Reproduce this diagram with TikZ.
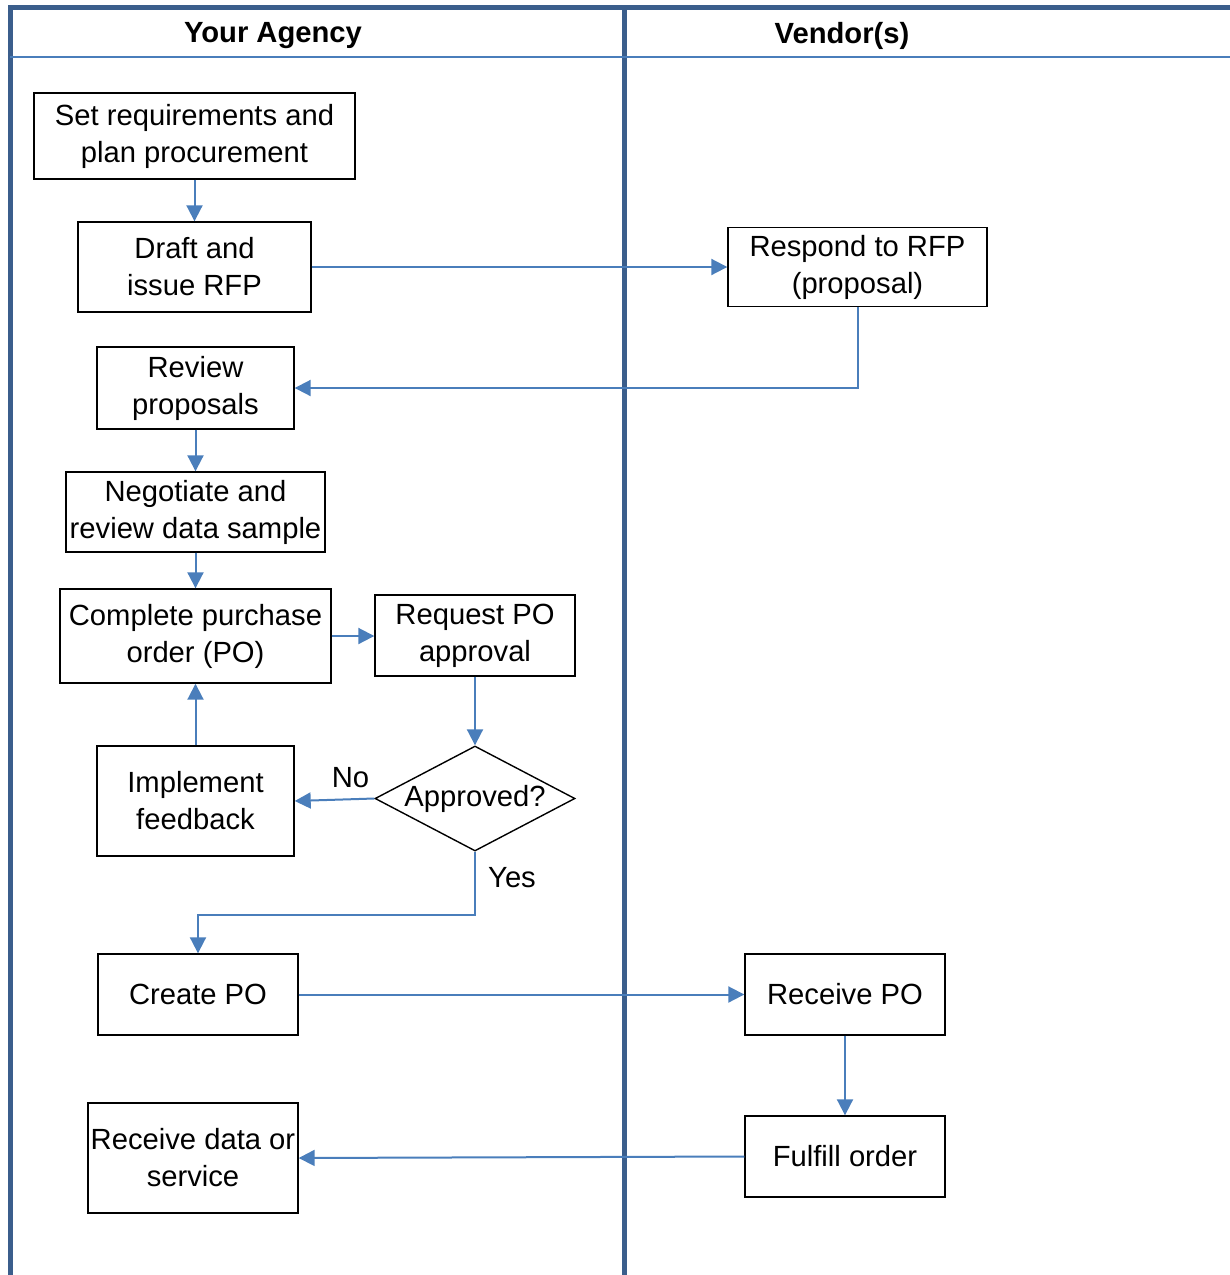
\documentclass[tikz,border=0pt]{standalone}
\usepackage{fontspec}
\setmainfont{Liberation Sans}
\usetikzlibrary{arrows.meta,shapes.geometric}
\definecolor{laneblue}{RGB}{59,94,140}
\definecolor{linkblue}{RGB}{74,126,187}

\begin{document}
\begin{tikzpicture}[x=0.5pt,y=-0.5pt,
    font=\fontsize{14.6}{18.5}\selectfont,
    box/.style={draw, line width=0.7pt, align=center, inner sep=0pt},
    decision/.style={draw, diamond, line width=0.7pt, aspect=1.9, inner sep=0pt,
        minimum width=100pt, minimum height=52.5pt},
    link/.style={draw=linkblue, line width=1pt, -{Triangle[length=8pt,width=8pt]}}]
    \useasboundingbox (0,0) rectangle (1230,1275);
    % swim lanes
    \draw[laneblue, line width=2.5pt] (10,1275) -- (10,7) -- (1230,7);
    \draw[laneblue, line width=2.5pt] (624,7) -- (624,1275);
    \draw[linkblue, line width=1pt] (10,57) -- (1230,57);
    \node[font=\fontsize{14.6}{18.5}\selectfont\bfseries] (agency) at (273,36) {Your Agency};
    \node[font=\fontsize{14.6}{18.5}\selectfont\bfseries] (vendor) at (842,36) {Vendor(s)};
    % agency side
    \node[box, minimum width=160.5pt, minimum height=43pt] (plan) at (194.5,136) {Set requirements and\\plan procurement};
    \node[box, minimum width=116.5pt, minimum height=45pt] (rfp) at (194.5,267) {Draft and\\issue RFP};
    \node[box, minimum width=98.5pt, minimum height=41pt] (review) at (195.5,388) {Review\\proposals};
    \node[box, minimum width=129.5pt, minimum height=40pt] (negotiate) at (195.5,512) {Negotiate and\\review data sample};
    \node[box, minimum width=135.5pt, minimum height=47pt] (complete) at (195.5,636) {Complete purchase\\order (PO)};
    \node[box, minimum width=100pt, minimum height=40.5pt] (request) at (475,635.5) {Request PO\\approval};
    \node[decision] (approved) at (475,798.5) {Approved?};
    \node[box, minimum width=98.5pt, minimum height=55pt] (feedback) at (195.5,801) {Implement\\feedback};
    \node[box, minimum width=100pt, minimum height=40.5pt] (createpo) at (198,994.5) {Create PO};
    \node[box, minimum width=105pt, minimum height=55pt] (receivedata) at (193,1158) {Receive data or\\service};
    % vendor side
    \node[box, minimum width=129.5pt, minimum height=39.5pt] (respond) at (857.5,267) {Respond to RFP\\(proposal)};
    \node[box, minimum width=100pt, minimum height=40.5pt] (receivepo) at (845,994.5) {Receive PO};
    \node[box, minimum width=100pt, minimum height=40.5pt] (fulfill) at (845,1156.5) {Fulfill order};
    % connectors
    \draw[link] (plan) -- (rfp);
    \draw[link] (rfp) -- (respond);
    \draw[link] (respond.south) |- (review.east);
    \draw[link] (review) -- (negotiate);
    \draw[link] (negotiate) -- (complete);
    \draw[link] (complete.east) -- (complete.east -| request.west);
    \draw[link] (request) -- (approved);
    \draw[link] (approved.west) -- node[above, pos=0.3, yshift=2pt] (no) {No} (feedback.east);
    \draw[link] (feedback) -- (feedback |- complete.south);
    \draw[link] (approved.south) -- ++(0,63) -| (createpo.north);
    \node (yes) at (512,878) {Yes};
    \draw[link] (createpo) -- (receivepo);
    \draw[link] (receivepo) -- (fulfill);
    \draw[link] (fulfill.west) -- (receivedata.east);
\end{tikzpicture}
\end{document}
